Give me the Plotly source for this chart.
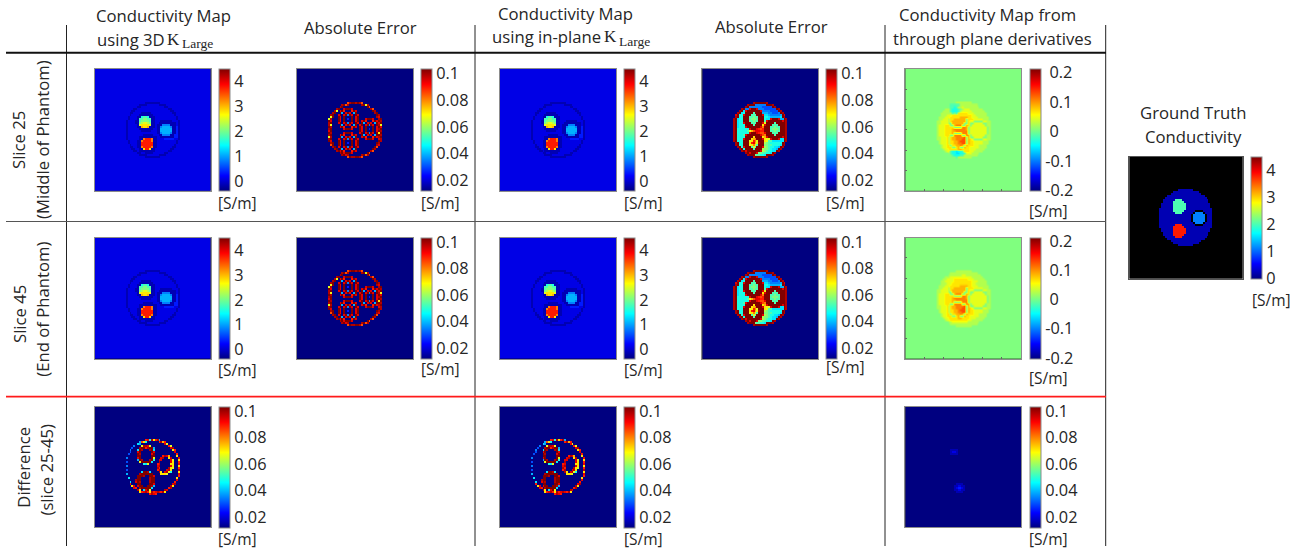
import numpy as np
import plotly.graph_objects as go

W, H = 1307, 550

# One character = one cell, in base 21: 0 = bottom of the colour bar, k = top of it.
# "." = no data. Spaces only separate groups of cells.
COND_MAP = [
"22222222222222222222222222222222",
"22222222222222222222222222222222",
"222222222222 11111111 222222222222",
"222222222 1111 222222 1111 222222222",
"22222222 11 222222222222 11 22222222",
"222222 11 2222222222222222 11 222222",
"22222 11 222222222222222222 11 22222",
"2222 11 2222 11111 22222222222 11 2222",
"2222 1 2222 1111111 22222222222 1 2222",
"222 1 2222 11 8998 111 22222222222 1 222",
"222 1 2222 1 99aa99 11 22222222222 1 222",
"22 1 2222 11 9aaaa9 11 222 111111 222 1 22",
"22 1 2222 11 abccba 11 22 111111111 2 1 22",
"22 1 22222 1 cddddc 11 2 111 5555 111 2 1 22",
"22 1 22222 11 edde 111 2 11 566665 11 3 1 22",
"22 1 222222 1111111 22 11 666666 11 3 1 22",
"22 1 2222222 11111 222 11 666666 11 3 1 22",
"22 1 222222222222222 11 566665 11 3 1 22",
"22 1 22222222 11111 222 11 5555 11 33 1 22",
"22 1 222222 111111111 22 1111111 33 1 22",
"22 1 222222 11 fhhhf 11 2222 33333 22 1 22",
"222 1 2222 11 fhhhhf 11 2222222222 1 222",
"222 1 2222 11 hhhhhh 11 2222222222 1 222",
"2222 1 222 11 hhhhhh 11 222222222 1 2222",
"2222 11 22 11 fhhhhf 11 22222222 11 2222",
"22222 11 22 11 dhhd 11 22222222 11 22222",
"222222 11 2 11111111 2222222 11 222222",
"22222222 11 22 1111 222222 11 22222222",
"222222222 1111 222222 1111 222222222",
"222222222222 11111111 222222222222",
"22222222222222222222222222222222",
"22222222222222222222222222222222",
]

ERROR_3D = [
"00000000000000000000000000000000",
"00000000000000000000000000000000",
"000000000000 gjkkjkjg 000000000000",
"000000000 jkgj 000000 jkcj 000000000",
"00000000 jk 000000000000 kg 00000000",
"000000 jk 00 ikkki 000000000 jg 000000",
"00000 jc 0ikh000hki0 0000000 kj 00000",
"0000 jk 0 0k60iki06k0 00000000 jk 0000",
"000 jk 00 ik0ik5ki0ki 000000000 kj 000",
"000 ck 00 ki0k000k0ik 000000000 ji 000",
"00 cj 000 ki0k030k0ik 000ikkki00 jk 00",
"00 ki 000 ki0k000k0ik 0ikh000hki kj 00",
"00 jk 000 ik0ik5ki0ki 0k60iki06k ik 00",
"00 jc 000 0k60iki06k0 ik0ik5ki0k jc 00",
"00 kj 000 0ikh000hki0 ki0k000k0i ki 00",
"00 jk 000 000ikkki000 ki0k030k0i jk 00",
"00 ik 000 00000000000 ki0k000k0i kj 00",
"00 kj 000 000ikkki000 ik0ik5ki0k dk 00",
"00 jk 000 0ikh000hki0 0k60iki06k kj 00",
"00 cj 000 0k60iki06k0 0ikh000hki jk 00",
"00 jk 000 ik0ik5ki0ki 000ikkki00 ij 00",
"00 ki 000 ki0k000k0ik 0000000000 kj 00",
"000 jk 00 ki0k030k0ik 000000000 kj 000",
"000 gk 00 ki0k000k0ik 000000000 ji 000",
"0000 jk 0 ik0ik5ki0ki 00000000 kg 0000",
"00000 jk 0k60iki06k0 0000000 kj 00000",
"000000 jk ikh000hki0 000000 jg 000000",
"00000000 jk ikkki000 0000 kg 00000000",
"000000000 jkij 000000 jkgj 000000000",
"000000000000 gkjjkkjg 000000000000",
"00000000000000000000000000000000",
"00000000000000000000000000000000",
]

ERROR_INPLANE = [
"00000000000000000000000000000000",
"00000000000000000000000000000000",
"000000000000 jkkkkkkj 000000000000",
"000000000 jkkk 555555 kkkj 000000000",
"00000000 jk 555555544444 kj 00000000",
"000000 jk 55 ikkki 555444444 kj 000000",
"00000 jk 7ikkkkkkki5 5554444 kj 00000",
"0000 jk 7 8kkkk9kkkk6 66554445 kj 0000",
"000 ik 88 ikkk999kkki 776555556 ki 000",
"000 jk 88 kkk99a99kkk 887666667 kj 000",
"00 jk 788 kkk9aaa9kkk 877ikkki66 kj 00",
"00 jk 788 kkk99a99kkk 9ikkkkkkki kj 00",
"00 jk 788 ikkk999kkki ckkkk9kkkk kj 00",
"00 jk 788 8kkkk9kkkkd ikkk999kkk kj 00",
"00 jk 788 8ikkkkkkkif kkk99a99kk kj 00",
"00 jk 888 888ikkkihgh kkk9aaa9kk kj 00",
"00 jk 888 889cegiiihh kkk99a99kk kj 00",
"00 jk 888 888ikkkihgg ikkk999kkk kj 00",
"00 jk 888 9ikkkkkkkig fkkkk9kkkk kj 00",
"00 jk 888 8kkkkdkkkkd eikkkkkkki kj 00",
"00 jk 888 ikkkdefkkki dccikkki77 kj 00",
"00 jk 888 kkkcdhfckkk dc99777777 kj 00",
"000 jk 88 kkkdhiecjkk ba9888888 kj 000",
"000 jk 88 kkkcdfc9kkk aa9988887 kj 000",
"0000 jk 8 ikkk9c9kkki ba988776 kj 0000",
"00000 jk 8kkkk9kkkkb aa98776 kj 00000",
"000000 jk ikkkkkkkib a98877 kj 000000",
"00000000 jk ikkkiaa9 9887 kj 00000000",
"000000000 jkkk a99887 kkkj 000000000",
"000000000000 jkkkkkkj 000000000000",
"00000000000000000000000000000000",
"00000000000000000000000000000000",
]

THROUGH_TOP_25 = [
"aaaaaaaaaaaaaaaaaaaaaaaaaaaaaaaa",
"aaaaaaaaaaaaaaaaaaaaaaaaaaaaaaaa",
"aaaaaaaaaaaa bbbbbbbb aaaaaaaaaaaa",
"aaaaaaaaa 99999bbbbbbbbb aaaaaaaaa",
"aaaaaaaa a9989bbcbbbbbbbb aaaaaaaa",
"aaaaaa bbb98889abcccbbbbbbb aaaaaa",
"aaaaa bbbb98889bcccccbbbbbbb aaaaa",
"aaaa bbbbbb9a9dddddcccbbbbbbb aaaa",
]
THROUGH_TOP_45 = [
"aaaaaaaaaaaaaaaaaaaaaaaaaaaaaaaa",
"aaaaaaaaaaaaaaaaaaaaaaaaaaaaaaaa",
"aaaaaaaaaaaa bbbbbbbb aaaaaaaaaaaa",
"aaaaaaaaa bbbbbbbbbbbbbb aaaaaaaaa",
"aaaaaaaa bbbbbbbccbbbbbbbb aaaaaaaa",
"aaaaaa bbbcccccccccccbbbbbb aaaaaa",
"aaaaa bbccccdddddddcccbbbbbb aaaaa",
"aaaa bbcccccdddddddddcccbbbbb aaaa",
]
THROUGH_MIDDLE = [
"aaaa bbbcccdddddddddd ccbbbbbb aaaa",
"aaa bbbcccdddddeeeeddcccbbbbbb aaa",
"aaa bbccc a ddeeeeee a dddccc ccbbb aaa",
"aa bbcccc a deeeeeee a dcc aaaaa ccbb aa",
"aa bbcccc aa eeeeee aa d aa ccccc aa bb aa",
"aa bcccddd aa efff aa ed a ccccccc a bb aa",
"aa bcccddddd aaaa ffe a ccccccccc a b aa",
"aa bcccdddde ffff ffe a ccccccccc a b aa",
"aa bcccddddee ffffff a ccccccccc a b aa",
"aa bcccdddde aaaa fff a ccccccccc a b aa",
"aa bcccddd aa ffff aa fe a ccccccc a bb aa",
"aa bbcccd a deeffffg a e aa ccccc aa bb aa",
"aa bbcccd a deefffgg a edc aaaaa ccbb aa",
"aaa bcccd a ddeefggg a eddccc ccbbb aaa",
"aaa bcccd a ddeeffgg a eddccc ccbbb aaa",
"aaaa bccdd a ddeefe a edddcc cbbbb aaaa",
"aaaa bccdd d aa de aa e ddcccc cbbbb aaaa",
"aaaaa bccdd dddee ddddc ccbbbbb aaaaa",
]
THROUGH_BOTTOM_25 = [
"aaaaaa bcc9887889dddccbbbbb aaaaaa",
"aaaaaaaa b98877889cccbbbb aaaaaaaa",
"aaaaaaaaa a988899bbbbbbb aaaaaaaaa",
"aaaaaaaaaaaa 9bbbbbbb aaaaaaaaaaaa",
"aaaaaaaaaaaaaaaaaaaaaaaaaaaaaaaa",
"aaaaaaaaaaaaaaaaaaaaaaaaaaaaaaaa",
]
THROUGH_BOTTOM_45 = [
"aaaaaa bccdddddddddccbbbbbb aaaaaa",
"aaaaaaaa bbccccccccbbbbbb aaaaaaaa",
"aaaaaaaaa bbbbbbbbbbbbbb aaaaaaaaa",
"aaaaaaaaaaaa bbbbbbbb aaaaaaaaaaaa",
"aaaaaaaaaaaaaaaaaaaaaaaaaaaaaaaa",
"aaaaaaaaaaaaaaaaaaaaaaaaaaaaaaaa",
]

DIFF_MAP = [
"00000000000000000000000000000000",
"00000000000000000000000000000000",
"000000000000 hi8jdhj6 000000000000",
"000000000 6gd8 000000 hjeh 000000000",
"00000000 76 000000000000 ic 00000000",
"000000 5 000cjjic000 000000 hc 000000",
"00000 4 0 00jkkhjkk60 0000000 ij 00000",
"0000 5 00 07kj000jk70 00000000 dh 0000",
"00004 00 0ik00000ki0 000000000 i 0000",
"000 4 000 0kj00000ik0 0000000000 h 000",
"000 0 000 0kk00000kk0 000hjie000 d 000",
"00 5 0000 0ik00000kc0 00ij00dj00 0 i 00",
"00 0 0000 06kj000jk80 0ii0000ic0 0 d 00",
"00 4 0000 00ckkkkk700 0j00000id0 0 h 00",
"00 0 0000 000087c0000 hi00000dd0 0 i 00",
"00 5 0000 00000000000 ij00000id0 0 d 00",
"00 0 0000 00000000000 jh0000jdc0 0 h 00",
"00 4 0000 00000000000 hj000ijd00 0 j 00",
"00 0 0000 0007kkj7000 0jd0ijc800 0 d 00",
"00 6 0000 00jkkkkkk00 00dddc0000 0 i 00",
"00 0 0000 0kkkj00kki0 0000000000 0 h 00",
"000 7 000 0kk0000jkk0 0000000000 d 000",
"000 0 000 jkk0000jkk0 0000000000 i 000",
"0000 7 00 ikj0000jkk0 000000000 h 0000",
"0000 h 00 0kk0000kki0 00000000 ij 0000",
"00000 di 0ikk00kkj60 0000000 jd 00000",
"000000 ih 0jkkkkk700 000000 hj 000000",
"00000000 jd 07ikc000 0000 ji 00000000",
"000000000 dhij hdjhij ihjd 000000000",
"000000000000 00hjih00 000000000000",
"00000000000000000000000000000000",
"00000000000000000000000000000000",
]

DIFF_THROUGH = [
"00000000000000000000000000000000",
"00000000000000000000000000000000",
"00000000000000000000000000000000",
"00000000000000000000000000000000",
"00000000000000000000000000000000",
"00000000000000000000000000000000",
"00000000000000000000000000000000",
"000000000 1111 0000000000000000000",
"000000000 1221 0000000000000000000",
"000000000 1111 0000000000000000000",
"00000000000000000000000000000000",
"00000000000000000000000000000000",
"00000000000000000000000000000000",
"00000000000000000000000000000000",
"00000000000000000000000000000000",
"00000000000000000000000000000000",
"00000000000000000000000000000000",
"00000000000000000000000000000000",
"00000000000000000000000000000000",
"00000000000000000000000000000000",
"00000000000000000000000000000000",
"00000000000000000000000000000000",
"00000000000000000000000000000000",
"00000000000000000000000000000000",
"000000000000 1111 0000000000000000",
"00000000000 112211 000000000000000",
"00000000000 123321 000000000000000",
"00000000000 112211 000000000000000",
"000000000000 1111 0000000000000000",
"00000000000000000000000000000000",
"00000000000000000000000000000000",
"00000000000000000000000000000000",
]

GROUND_TRUTH = [
"................................",
"................................",
"............ 11111111 ............",
"......... 11111111111111 .........",
"........ 1111111111111111 ........",
"...... 11111111111111111111 ......",
"..... 1111111111111111111111 .....",
".... 111111 9999 11111111111111 ....",
".... 11111 999999 1111111111111 ....",
"... 111111 9999999 1111111111111 ...",
"... 111111 9999999 1111111111111 ...",
".. 1111111 9999999 11111111111111 ..",
".. 1111111 999999 111111 .... 11111 ..",
".. 11111111 9999 111111 . 5555 . 1111 ..",
".. 11111111111111111 . 555555 . 111 ..",
".. 11111111111111111 . 555555 . 111 ..",
".. 11111111111111111 . 555555 . 111 ..",
".. 11111111111111111 . 555555 . 111 ..",
".. 111111111111111111 . 5555 . 1111 ..",
".. 11111111 hhhh 1111111 .... 11111 ..",
".. 1111111 hhhhhh 111111111111111 ..",
"... 111111 hhhhhhh 1111111111111 ...",
"... 111111 hhhhhhh 1111111111111 ...",
".... 11111 hhhhhhh 111111111111 ....",
".... 11111 hhhhhh 1111111111111 ....",
"..... 11111 hhhh 1111111111111 .....",
"...... 11111111111111111111 ......",
"........ 1111111111111111 ........",
"......... 11111111111111 .........",
"............ 11111111 ............",
"................................",
"................................",
]

COND_TICKS = [0, 1, 2, 3, 4]
ERROR_TICKS = [0.02, 0.04, 0.06, 0.08, 0.1]
THROUGH_TICKS = [-0.2, -0.1, 0, 0.1, 0.2]
COND_RANGE = (-0.37, 4.5)
ERROR_RANGE = (0.0122, 0.1032)
THROUGH_RANGE = (-0.2027, 0.2126)
TRUTH_RANGE = (0, 4.5)

JET = [[0, "rgb(0,0,128)"], [0.125, "rgb(0,0,255)"], [0.375, "rgb(0,255,255)"],
       [0.625, "rgb(255,255,0)"], [0.875, "rgb(255,0,0)"], [1, "rgb(128,0,0)"]]

FONT = "Open Sans, Noto Sans, sans-serif"
SERIF = "Liberation Serif, serif"
INK = "#262626"
BORDER = "#8c8c8c"
CROP, GRID = 32, 60


def decode(rows, rng):
    low, high = rng
    out = []
    for row in rows:
        row = row.replace(" ", "")
        fill = row[0]
        row = (row + fill * CROP)[:CROP]
        out.append([np.nan if c == "." else low + (high - low) * int(c, 21) / 20 for c in row])
    arr = np.array(out, dtype=float)
    edge = (GRID - CROP) // 2
    return np.pad(arr, edge, constant_values=arr[0, 0])


COLS = [(94.7, 218.7), (297, 421), (500, 624), (702.3, 826.3), (905.3, 1029.7)]
ROWS = [(69, 190.7), (237.7, 359), (406.7, 527.3)]
PANEL_W = 116

through25 = THROUGH_TOP_25 + THROUGH_MIDDLE + THROUGH_BOTTOM_25
through45 = THROUGH_TOP_45 + THROUGH_MIDDLE + THROUGH_BOTTOM_45

panels = [
    (0, 0, COND_MAP, COND_RANGE, COND_TICKS),
    (1, 0, ERROR_3D, ERROR_RANGE, ERROR_TICKS),
    (2, 0, COND_MAP, COND_RANGE, COND_TICKS),
    (3, 0, ERROR_INPLANE, ERROR_RANGE, ERROR_TICKS),
    (4, 0, through25, THROUGH_RANGE, THROUGH_TICKS),
    (0, 1, COND_MAP, COND_RANGE, COND_TICKS),
    (1, 1, ERROR_3D, ERROR_RANGE, ERROR_TICKS),
    (2, 1, COND_MAP, COND_RANGE, COND_TICKS),
    (3, 1, ERROR_INPLANE, ERROR_RANGE, ERROR_TICKS),
    (4, 1, through45, THROUGH_RANGE, THROUGH_TICKS),
    (0, 2, DIFF_MAP, ERROR_RANGE, ERROR_TICKS),
    (2, 2, DIFF_MAP, ERROR_RANGE, ERROR_TICKS),
    (4, 2, DIFF_THROUGH, ERROR_RANGE, ERROR_TICKS),
]

fig = go.Figure()
layout = {}


def add_panel(i, x0, x1, y0, y1, barx, rows, rng, ticks, smooth, through=False, bar_w=11.3):
    z = decode(rows, rng)
    name = "" if i == 0 else str(i + 1)
    axis = dict(showgrid=False, zeroline=False, showticklabels=False, showline=True, mirror=True,
                linecolor=BORDER, linewidth=1, ticks="inside" if through else "", ticklen=2,
                tickcolor="#666", dtick=10, tick0=9.5)
    layout["xaxis" + name] = dict(axis, domain=[x0 / W, x1 / W], range=[-0.5, GRID - 0.5],
                                  anchor="y" + name)
    layout["yaxis" + name] = dict(axis, domain=[1 - y1 / H, 1 - y0 / H], range=[GRID - 0.5, -0.5],
                                  anchor="x" + name)
    labels = [("\u00a0" + str(t) if through and t >= 0 else str(t)) for t in ticks]
    fig.add_trace(go.Heatmap(
        z=z, xaxis="x" + name, yaxis="y" + name, colorscale=JET, zmin=rng[0], zmax=rng[1],
        zsmooth=smooth, hoverinfo="skip",
        colorbar=dict(x=barx / W, xanchor="left", xpad=0, y=1 - y0 / H, yanchor="top", ypad=0,
                      len=(y1 - y0) / H, lenmode="fraction", thickness=bar_w, thicknessmode="pixels",
                      outlinecolor=BORDER, outlinewidth=1, borderwidth=0,
                      tickvals=ticks, ticktext=labels, ticks="",
                      tickfont=dict(family=FONT, size=16.3, color=INK)),
    ))


for i, (c, r, rows, rng, ticks) in enumerate(panels):
    x0, barx = COLS[c]
    y0, y1 = ROWS[r]
    is_through = rng == THROUGH_RANGE
    add_panel(i, x0, x0 + PANEL_W, y0, y1, barx, rows, rng, ticks, "best" if is_through else False,
              through=is_through)

add_panel(len(panels), 1129.3, 1242.7, 156.7, 278.7, 1251, GROUND_TRUTH, TRUTH_RANGE, COND_TICKS, False)
layout["xaxis%d" % (len(panels) + 1)]["linecolor"] = "#555"
layout["yaxis%d" % (len(panels) + 1)]["linecolor"] = "#555"

TEXTS = [
    (163.3, 15.7, "Conductivity Map", 0),
    (130.5, 39, "using 3D", 0),
    (360, 27.3, "Absolute Error", 0),
    (565, 13.3, "Conductivity Map", 0),
    (546.5, 36.7, "using in-plane", 0),
    (771, 27, "Absolute Error", 0),
    (987, 15, "Conductivity Map from", 0),
    (992.3, 38.3, "through plane derivatives", 0),
    (1192.5, 112.7, "Ground Truth", 0),
    (1193, 136, "Conductivity", 0),
    (19, 140, "Slice 25", -90),
    (43, 140, "(Middle of Phantom)", -90),
    (19, 314, "Slice 45", -90),
    (43, 309.7, "(End of Phantom)", -90),
    (22.7, 467, "Difference", -90),
    (46, 469.5, "(slice 25-45)", -90),
]
SERIF_TEXTS = [
    (173, 39, "K", 17),
    (197, 44, "Large", 13.5),
    (610.5, 36.7, "K", 17),
    (634, 41.7, "Large", 13.5),
]
UNIT_POSITIONS = [
    (218, 202.7), (421, 202.7), (624, 202.7), (825.7, 202.7), (1029, 210.7),
    (218, 370), (421, 369), (624, 370), (825.7, 367), (1029, 378),
    (218, 538.5), (624, 538.5), (1029, 538.5), (1252, 300),
]

annotations = []
for x, y, text, angle in TEXTS:
    annotations.append(dict(x=x / W, y=1 - y / H, xref="paper", yref="paper", text=text, showarrow=False,
                            textangle=angle, xanchor="center", yanchor="middle",
                            font=dict(family=FONT, size=16.7, color=INK)))
for x, y, text, size in SERIF_TEXTS:
    annotations.append(dict(x=x / W, y=1 - y / H, xref="paper", yref="paper", text=text, showarrow=False,
                            xanchor="center", yanchor="middle",
                            font=dict(family=SERIF, size=size, color=INK)))
for x, y in UNIT_POSITIONS:
    annotations.append(dict(x=x / W, y=1 - y / H, xref="paper", yref="paper", text="[S/m]", showarrow=False,
                            xanchor="left", yanchor="middle", xshift=-2,
                            font=dict(family=FONT, size=15.5, color=INK)))

RULES = [
    (66.5, 25, 66.5, 546, "#222", 1),
    (475, 25, 475, 546, "#222", 1),
    (885, 25, 885, 546, "#222", 1),
    (1105.7, 25, 1105.7, 546, "#222", 1),
    (6, 52.7, 1106, 52.7, "#111", 2),
    (6, 221.5, 1106, 221.5, "#555", 1),
    (6, 396.7, 1106, 396.7, "#ff1a1a", 1.8),
]
shapes = [dict(type="line", xref="paper", yref="paper", x0=a / W, x1=c / W, y0=1 - b / H, y1=1 - d / H,
               line=dict(color=col, width=w)) for a, b, c, d, col, w in RULES]

fig.update_layout(width=W, height=H, autosize=False, margin=dict(l=0, r=0, t=0, b=0),
                  paper_bgcolor="white", plot_bgcolor="black", showlegend=False,
                  annotations=annotations, shapes=shapes, **layout)
fig.write_html("out.html", config={"displayModeBar": False},
               post_script="document.body.style.margin='0';document.documentElement.style.overflow='hidden';")
